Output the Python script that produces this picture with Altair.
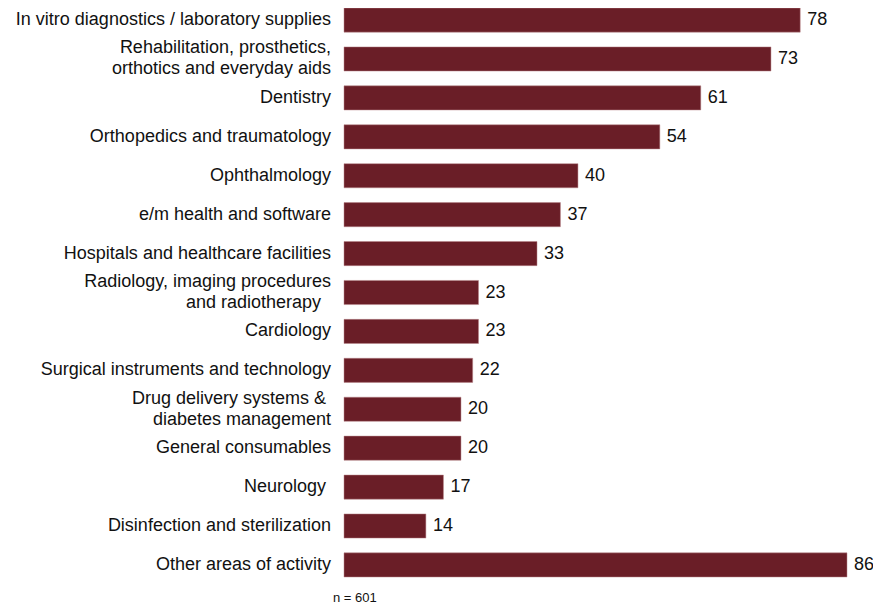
import altair as alt
import pandas as pd

categories = [
    "In vitro diagnostics / laboratory supplies",
    "Rehabilitation, prosthetics,\northotics and everyday aids",
    "Dentistry",
    "Orthopedics and traumatology",
    "Ophthalmology",
    "e/m health and software",
    "Hospitals and healthcare facilities",
    "Radiology, imaging procedures\nand radiotherapy\u00a0\u00a0\u200b",
    "Cardiology",
    "Surgical instruments and technology",
    "Drug delivery systems &\u00a0\u200b\ndiabetes management",
    "General consumables",
    "Neurology\u00a0\u200b",
    "Disinfection and sterilization",
    "Other areas of activity",
]
values = [78, 73, 61, 54, 40, 37, 33, 23, 23, 22, 20, 20, 17, 14, 86]
note = "n = 601"

df = pd.DataFrame({"cat": categories, "val": values})
df["idx"] = range(len(df))

BAR = "#6A1E27"
FONT = "Liberation Sans"
FS = 18
LH = 21

y = alt.Y("idx:O", axis=None,
          scale=alt.Scale(paddingInner=0.38, paddingOuter=0.0))
x = alt.X("val:Q", axis=None, scale=alt.Scale(domain=[0, 86], nice=False, zero=True))

base = alt.Chart(df)

bars = base.mark_bar(color=BAR, stroke="#B8868B", strokeWidth=0.5).encode(x=x, y=y)

values_txt = base.mark_text(align="left", baseline="middle", dx=7, fontSize=FS,
                            font=FONT, color="#111111").encode(x=x, y=y, text="val:Q")

labels_one = base.transform_filter("indexof(datum.cat, '\\n') < 0").mark_text(
    align="right", baseline="middle", fontSize=FS, font=FONT, color="#111111").encode(
    x=alt.value(-13), y=y, text="cat:N")

labels_two = base.transform_filter("indexof(datum.cat, '\\n') >= 0").mark_text(
    align="right", baseline="middle", fontSize=FS, font=FONT, color="#111111",
    lineBreak="\n", lineHeight=LH, dy=-LH / 2).encode(
    x=alt.value(-13), y=y, text="cat:N")

note_df = pd.DataFrame({"t": [note]})
note_txt = alt.Chart(note_df).mark_text(align="left", baseline="middle", fontSize=13,
                                        font=FONT, color="#111111").encode(
    x=alt.value(-11), y=alt.value(590), text="t:N")

chart = alt.layer(bars, values_txt, labels_one, labels_two, note_txt).properties(
    width=503, height=569,
    autosize=alt.AutoSizeParams(type="none"),
    padding={"left": 336, "top": 0, "right": 26, "bottom": 27},
).configure_view(stroke=None)

chart.save("out.html", embed_options={"renderer": "svg", "actions": False})
